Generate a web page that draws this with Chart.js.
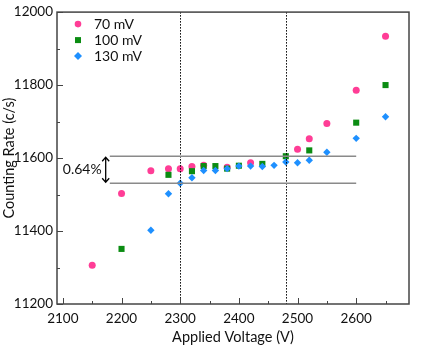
<!DOCTYPE html>
<html>
<head>
<meta charset="utf-8">
<script src="https://cdn.jsdelivr.net/npm/chart.js@4"></script>
<style>
    html, body { margin: 0; padding: 0; background: #fff; }
    canvas { display: block; }
</style>
</head>
<body>
<canvas id="chart" width="421" height="350"></canvas>
<script>
// data
const series = ["70 mV", "100 mV", "130 mV"];

const x70 = [2150, 2200, 2250, 2280, 2300, 2320, 2340, 2380, 2420, 2500, 2520, 2550, 2600, 2650];
const y70 = [11306, 11503, 11565, 11571, 11571, 11577, 11580, 11575, 11587, 11624, 11653, 11695, 11786, 11934];

const x100 = [2200, 2280, 2320, 2340, 2360, 2380, 2400, 2440, 2480, 2520, 2600, 2650];
const y100 = [11351, 11554, 11564, 11578, 11578, 11571, 11579, 11584, 11605, 11621, 11697, 11800];

const x130 = [2250, 2280, 2300, 2320, 2340, 2360, 2380, 2400, 2420, 2440, 2460, 2480, 2500, 2520, 2550, 2600, 2650];
const y130 = [11402, 11502, 11531, 11546, 11566, 11566, 11571, 11578, 11578, 11577, 11580, 11589, 11587, 11594, 11616, 11654, 11713];

const xTicks = [2100, 2200, 2300, 2400, 2500, 2600];
const yTicks = [11200, 11400, 11600, 11800, 12000];

const plateauX = [2300, 2480];        // dotted verticals
const bandY = [11605, 11531];         // grey horizontals
const bandX = [2180, 2600];
const arrowX = 2173;
const bandLabel = "0.64%";

const colors = ["#ff3d96", "#0b8c12", "#1e90ff"];
const styles = ["circle", "rect", "rectRot"];
const radii = [3.5, 4.3, 3.7];

function pts(xs, ys) {
    return xs.map((x, i) => ({ x: x, y: ys[i] }));
}

Chart.defaults.font.family = "Lato, 'Open Sans', sans-serif";
Chart.defaults.color = "#111";

const extras = {
    id: "extras",
    afterDatasetsDraw(chart) {
        const c = chart.ctx;
        const xs = chart.scales.x;
        const ys = chart.scales.y;
        const a = chart.chartArea;

        c.save();

        // dotted verticals
        c.strokeStyle = "#000";
        c.lineWidth = 1;
        c.setLineDash([1.5, 1.5]);
        plateauX.forEach(v => {
            const px = Math.round(xs.getPixelForValue(v)) + 0.5;
            c.beginPath();
            c.moveTo(px, a.top);
            c.lineTo(px, a.bottom);
            c.stroke();
        });
        c.setLineDash([]);

        // grey band lines
        c.strokeStyle = "#8a8a8a";
        c.lineWidth = 1.5;
        bandY.forEach(v => {
            const py = ys.getPixelForValue(v);
            c.beginPath();
            c.moveTo(xs.getPixelForValue(bandX[0]), py);
            c.lineTo(xs.getPixelForValue(bandX[1]), py);
            c.stroke();
        });

        // double arrow
        const ax = xs.getPixelForValue(arrowX);
        const y1 = ys.getPixelForValue(bandY[0]);
        const y2 = ys.getPixelForValue(bandY[1]);
        c.strokeStyle = "#000";
        c.lineWidth = 1.3;
        c.beginPath();
        c.moveTo(ax, y1 + 1);
        c.lineTo(ax, y2 - 1);
        c.moveTo(ax - 3.5, y1 + 5);
        c.lineTo(ax, y1 + 1);
        c.lineTo(ax + 3.5, y1 + 5);
        c.moveTo(ax - 3.5, y2 - 5);
        c.lineTo(ax, y2 - 1);
        c.lineTo(ax + 3.5, y2 - 5);
        c.stroke();

        c.fillStyle = "#111";
        c.font = "14px Lato, 'Open Sans', sans-serif";
        c.textAlign = "right";
        c.textBaseline = "middle";
        c.fillText(bandLabel, ax - 4, (y1 + y2) / 2);

        // frame
        c.strokeStyle = "#444";
        c.lineWidth = 1.5;
        c.strokeRect(a.left, a.top, a.right - a.left, a.bottom - a.top);

        // inward ticks
        c.lineWidth = 1;
        c.strokeStyle = "#444";
        for (let v = 2100; v <= 2650; v += 50) {
            const px = Math.round(xs.getPixelForValue(v)) + 0.5;
            const len = v % 100 === 0 ? 6 : 3;
            c.beginPath();
            c.moveTo(px, a.bottom);
            c.lineTo(px, a.bottom - len);
            c.stroke();
        }
        for (let v = 11200; v <= 12000; v += 100) {
            const py = Math.round(ys.getPixelForValue(v)) + 0.5;
            const len = v % 200 === 0 ? 6 : 3;
            c.beginPath();
            c.moveTo(a.left, py);
            c.lineTo(a.left + len, py);
            c.stroke();
        }

        // legend inside the plot
        c.font = "14px Lato, 'Open Sans', sans-serif";
        c.textAlign = "left";
        series.forEach((name, i) => {
            const ly = a.top + 12 + i * 16;
            const lx = a.left + 21;
            c.fillStyle = colors[i];
            c.beginPath();
            if (styles[i] === "circle") {
                c.arc(lx, ly, 3.3, 0, Math.PI * 2);
            } else if (styles[i] === "rect") {
                c.rect(lx - 3, ly - 3, 6, 6);
            } else {
                c.moveTo(lx, ly - 4);
                c.lineTo(lx + 4, ly);
                c.lineTo(lx, ly + 4);
                c.lineTo(lx - 4, ly);
                c.closePath();
            }
            c.fill();
            c.fillStyle = "#111";
            c.fillText(name, lx + 16, ly + 0.5);
        });

        c.restore();
    }
};

new Chart(document.getElementById("chart"), {
    type: "scatter",
    data: {
        datasets: [
            { label: series[0], data: pts(x70, y70), order: 3 },
            { label: series[1], data: pts(x100, y100), order: 2 },
            { label: series[2], data: pts(x130, y130), order: 1 }
        ].map((d, i) => Object.assign(d, {
            pointStyle: styles[i],
            pointRadius: radii[i],
            pointHoverRadius: radii[i],
            backgroundColor: colors[i],
            borderColor: colors[i],
            borderWidth: 0
        }))
    },
    options: {
        responsive: false,
        devicePixelRatio: 1,
        animation: false,
        layout: { padding: { left: 0, top: 11, right: 12, bottom: 0 } },
        plugins: {
            legend: { display: false },
            tooltip: { enabled: false }
        },
        scales: {
            x: {
                type: "linear",
                min: 2090,
                max: 2690,
                afterBuildTicks: s => { s.ticks = xTicks.map(v => ({ value: v })); },
                afterFit: s => { s.height = 46; },
                grid: { display: false, drawTicks: false },
                border: { display: false },
                ticks: { padding: 7, font: { size: 13.5 }, color: "#111", callback: v => String(v) },
                title: {
                    display: true,
                    text: "Applied Voltage (V)",
                    font: { size: 14.5 },
                    color: "#111",
                    padding: { top: 0, bottom: 4 }
                }
            },
            y: {
                type: "linear",
                min: 11200,
                max: 12000,
                afterBuildTicks: s => { s.ticks = yTicks.map(v => ({ value: v })); },
                afterFit: s => { s.width = 57; },
                grid: { display: false, drawTicks: false },
                border: { display: false },
                ticks: { padding: 4, font: { size: 13.5 }, color: "#111", callback: v => String(v) },
                title: {
                    display: true,
                    text: "Counting Rate (c/s)",
                    font: { size: 14.5 },
                    color: "#111",
                    padding: { top: 1, bottom: 0 }
                }
            }
        }
    },
    plugins: [extras]
});
</script>
</body>
</html>
